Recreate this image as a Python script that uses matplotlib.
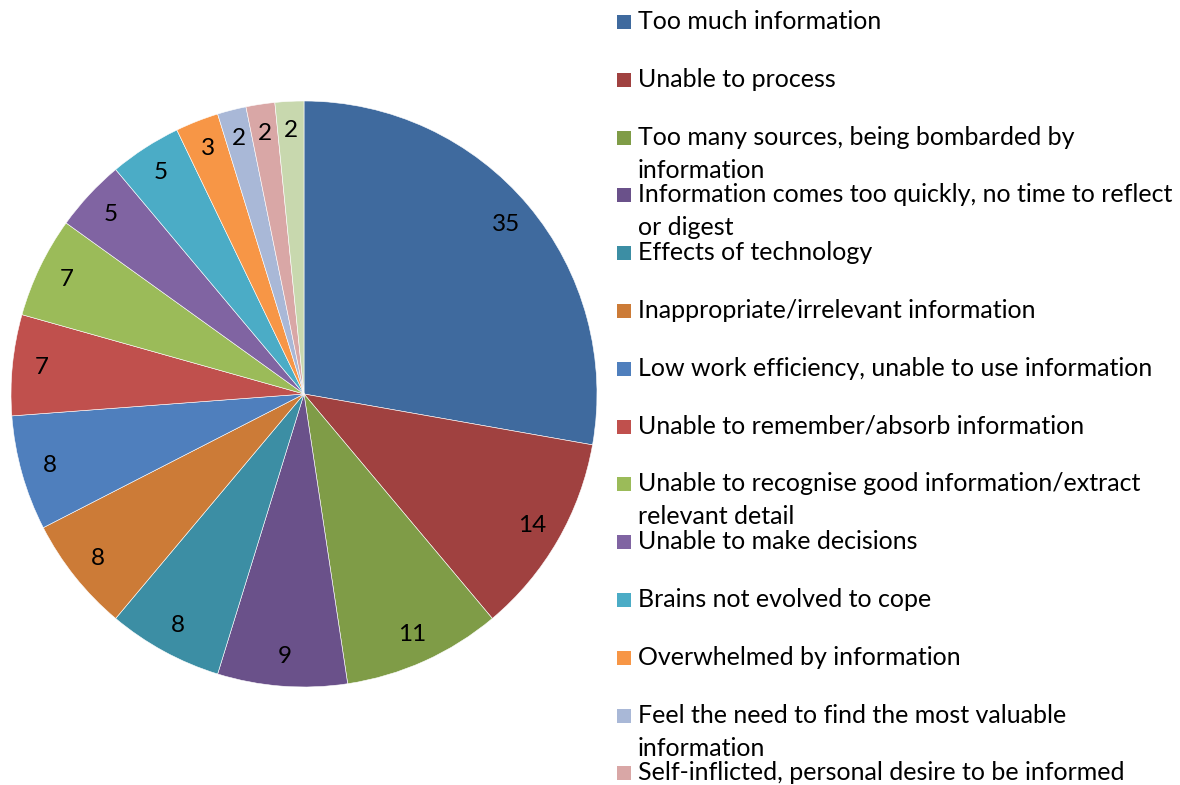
import matplotlib
matplotlib.use("Agg")
import matplotlib.pyplot as plt
from matplotlib.patches import Rectangle

categories = [
    "Too much information",
    "Unable to process",
    "Too many sources, being bombarded by\ninformation",
    "Information comes too quickly, no time to reflect\nor digest",
    "Effects of technology",
    "Inappropriate/irrelevant information",
    "Low work efficiency, unable to use information",
    "Unable to remember/absorb information",
    "Unable to recognise good information/extract\nrelevant detail",
    "Unable to make decisions",
    "Brains not evolved to cope",
    "Overwhelmed by information",
    "Feel the need to find the most valuable\ninformation",
    "Self-inflicted, personal desire to be informed",
    "Other",
]
values = [35, 14, 11, 9, 8, 8, 8, 7, 7, 5, 5, 3, 2, 2, 2]
colors = ["#3F6A9E", "#A04140", "#7F9C47", "#6A518A", "#3C8EA4", "#CC7B37",
          "#4F7FBD", "#C0504D", "#9BBB59", "#8064A2", "#4BACC6", "#F79646",
          "#A9B8D7", "#D9A7A6", "#C8D8AE"]

FONT = ["Lato", "DejaVu Sans"]
plt.rcParams["font.family"] = FONT

W, H = 1180, 785
fig = plt.figure(figsize=(W / 100, H / 100), dpi=100)

cx, cy, r = 304, 394, 293
ax = fig.add_axes([(cx - r) / W, (H - cy - r) / H, 2 * r / W, 2 * r / H])
wedges, texts = ax.pie(values, colors=colors, startangle=90, counterclock=False,
                       radius=1.0, labels=[str(v) for v in values], labeldistance=0.9,
                       wedgeprops=dict(edgecolor="white", linewidth=0.4),
                       textprops=dict(fontsize=17.5, color="black", ha="center", va="center"))
ax.set_xlim(-1, 1)
ax.set_ylim(-1, 1)
ax.set_aspect("equal")
ax.axis("off")

# legend, laid out like the original
sq_x, sq = 617, 14
txt_x = 638
base0 = 29
step = 57.8
line2 = 33
for i, (lab, col) in enumerate(zip(categories, colors)):
    b = base0 + step * i
    fig.patches.append(Rectangle((sq_x / W, (H - b) / H), sq / W, sq / H,
                                 transform=fig.transFigure, facecolor=col,
                                 edgecolor="none"))
    for j, line in enumerate(lab.split("\n")):
        fig.text(txt_x / W, (H - b - j * line2) / H, line, fontsize=18,
                 va="baseline", ha="left", color="black")

fig.savefig("out.png", dpi=100)
